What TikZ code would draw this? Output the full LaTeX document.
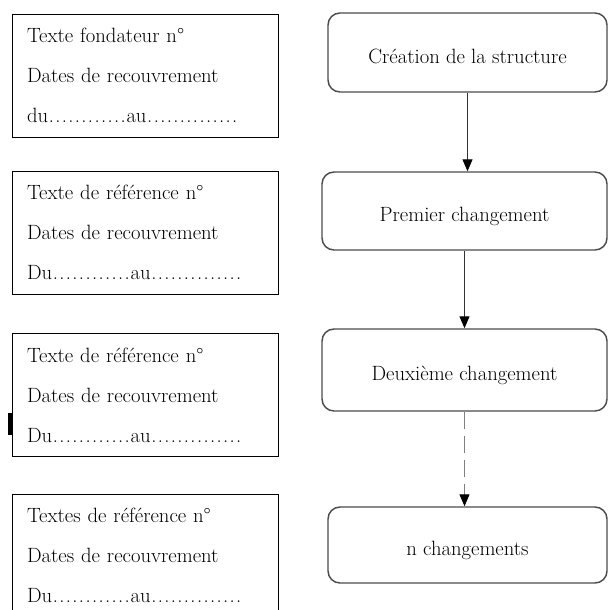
\documentclass[tikz,border=0pt]{standalone}
\usepackage{fontspec}
\usetikzlibrary{arrows.meta}
\newcommand{\dotrun}[1]{\hbox to #1{\xleaders\hbox to 4.9pt{\hss.\hss}\hfill}}

\begin{document}
\begin{tikzpicture}[x=0.75pt,y=-0.75pt]
            \tikzset{textbox/.style = {shape=rectangle, draw, line width=0.6pt, text width=177pt, inner xsep=11.25pt, minimum height=92.25pt, align=left, font=\fontsize{15.5}{30}\selectfont}}
            \tikzset{stepbox/.style = {shape=rectangle, draw=black!70, line width=1.1pt, rounded corners=9pt, text height=18pt, text depth=2pt, font=\fontsize{15.5}{17}\selectfont}}
            \tikzset{arrow/.style = {draw=black!80, line width=0.9pt, -{Triangle[width=7.5pt,length=9pt,black]}}}
            \useasboundingbox (0,0) rectangle (608,610);
            % text boxes
            \node[textbox] (t1) at (145,75.5) {Texte fondateur n°\\Dates de recouvrement\\du\dotrun{58.8pt}au\dotrun{68.6pt}};
            \node[textbox] (t2) at (145,232.5) {Texte de référence n°\\Dates de recouvrement\\Du\dotrun{58.8pt}au\dotrun{68.6pt}};
            \node[textbox] (t3) at (145,395) {Texte de référence n°\\Dates de recouvrement\\Du\dotrun{58.8pt}au\dotrun{68.6pt}};
            \node[textbox] (t4) at (145,555.5) {Textes de référence n°\\Dates de recouvrement\\Du\dotrun{58.8pt}au\dotrun{68.6pt}};
            \fill (8,413) rectangle (11.5,435);
            % steps
            \node[stepbox, minimum width=209.25pt, minimum height=59.25pt] (c1) at (467.5,52.5) {Création de la structure};
            \node[stepbox, minimum width=213.75pt, minimum height=58.5pt] (c2) at (464.5,211) {Premier changement};
            \node[stepbox, minimum width=213.75pt, minimum height=61.5pt] (c3) at (464.5,370) {Deuxième changement};
            \node[stepbox, minimum width=209.25pt, minimum height=57pt] (c4) at (467.5,545) {n changements};
            % arrows
            \draw[arrow] (c1.south) -- (c1.south |- c2.north);
            \draw[arrow] (c2.south) -- (c2.south |- c3.north);
            \draw[arrow, draw=gray, dash pattern=on 12.75pt off 5.25pt] (c3.south) -- (c3.south |- c4.north);
        \end{tikzpicture}
\end{document}
